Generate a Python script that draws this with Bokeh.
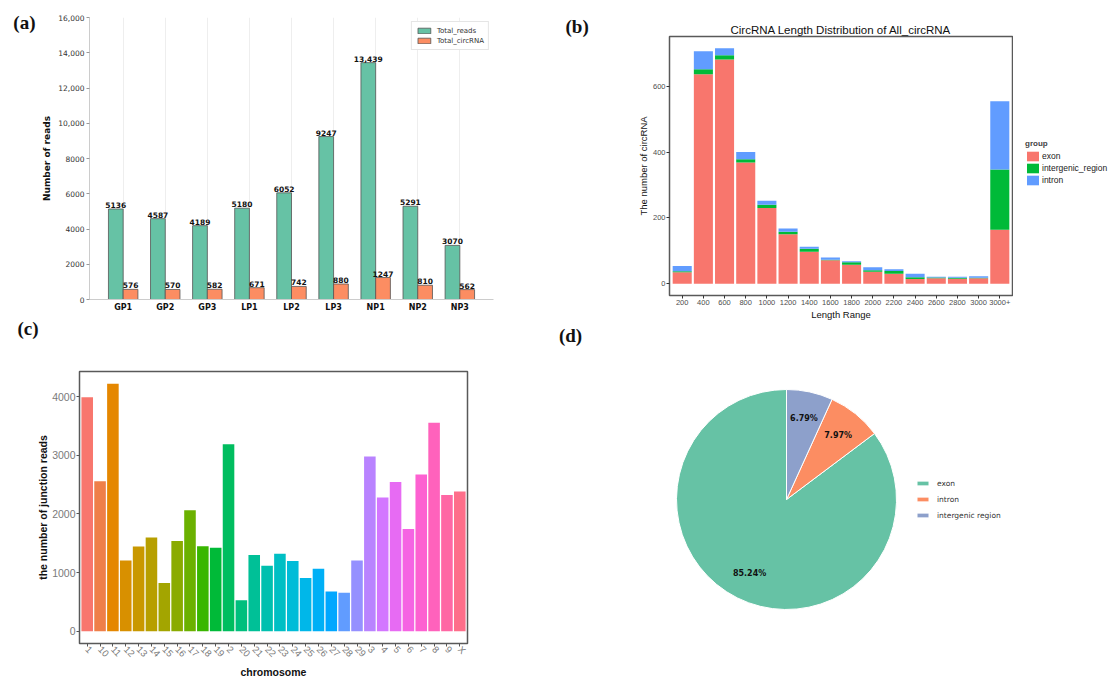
import numpy as np
from bokeh.plotting import figure
from bokeh.models import (ColumnDataSource, Range1d, FixedTicker, Legend, LegendItem, Label,
                          LinearAxis, Title)
from bokeh.layouts import row, column
from bokeh.transform import dodge
from bokeh.core.properties import value
from bokeh.embed import file_html
from bokeh.resources import INLINE

# (a) reads per sample
samples = ["GP1", "GP2", "GP3", "LP1", "LP2", "LP3", "NP1", "NP2", "NP3"]
total_reads = [5136, 4587, 4189, 5180, 6052, 9247, 13439, 5291, 3070]
total_circ = [576, 570, 582, 671, 742, 880, 1247, 810, 562]

# (b) circRNA length distribution, stacked by group
length_bins = ["200", "400", "600", "800", "1000", "1200", "1400", "1600", "1800",
               "2000", "2200", "2400", "2600", "2800", "3000", "3000+"]
len_exon = [35, 636, 681, 368, 230, 150, 97, 71, 58, 36, 30, 14, 17, 15, 17, 164]
len_intergenic = [3, 15, 13, 10, 10, 8, 9, 2, 7, 5, 9, 6, 2, 3, 1, 183]
len_intron = [16, 55, 21, 22, 12, 10, 6, 7, 3, 9, 5, 10, 2, 3, 5, 207]
groups = ["exon", "intergenic_region", "intron"]

# (c) junction reads per chromosome
chromosomes = ["1", "10", "11", "12", "13", "14", "15", "16", "17", "18", "19", "2",
               "20", "21", "22", "23", "24", "25", "26", "27", "28", "29", "3", "4",
               "5", "6", "7", "8", "9", "X"]
junction_reads = [3990, 2560, 4220, 1205, 1445, 1600, 820, 1540, 2065, 1450, 1425, 3190,
                  525, 1300, 1115, 1320, 1195, 905, 1065, 675, 655, 1205, 2980, 2280,
                  2545, 1745, 2675, 3555, 2325, 2385]

# (d) share of circRNA by origin
regions = ["exon", "intron", "intergenic region"]
region_pct = [85.24, 7.97, 6.79]

SET2 = ["#66c2a5", "#fc8d62", "#8da0cb"]
GG3 = ["#F8766D", "#00BA38", "#619CFF"]
MPL_FONT = "DejaVu Sans"
GG_FONT = "Liberation Sans"
TAG_FONT = "Liberation Serif"


def hue_pal(n, l=65.0, c=100.0, h0=15.0):
    # ggplot2 default discrete hue palette (HCL -> sRGB)
    xn, yn, zn = 0.95047, 1.0, 1.08883
    den = xn + 15 * yn + 3 * zn
    un, vn = 4 * xn / den, 9 * yn / den
    Y = yn * ((l + 16) / 116) ** 3
    out = []
    for k in range(n):
        h = np.deg2rad(h0 + 360.0 * k / n)
        up = c * np.cos(h) / (13 * l) + un
        vp = c * np.sin(h) / (13 * l) + vn
        X = 9 * Y * up / (4 * vp)
        Z = Y * (12 - 3 * up - 20 * vp) / (4 * vp)
        rgb = [3.2404542 * X - 1.5371385 * Y - 0.4985314 * Z,
               -0.9692660 * X + 1.8760108 * Y + 0.0415560 * Z,
               0.0556434 * X - 0.2040259 * Y + 1.0572252 * Z]
        hexs = ""
        for ch in rgb:
            ch = min(max(ch, 0.0), 1.0)
            ch = 12.92 * ch if ch <= 0.0031308 else 1.055 * ch ** (1 / 2.4) - 0.055
            hexs += "%02x" % int(round(ch * 255))
        out.append("#" + hexs)
    return out


def tag_title(text, offset, standoff):
    return Title(text=text, align="left", offset=offset, standoff=standoff,
                 text_font=TAG_FONT, text_font_size="19px", text_font_style="bold",
                 text_color="#111111")


def blank_fig(w, h, top, bottom):
    f = figure(width=w, height=h, output_backend="svg", toolbar_location=None, title=None,
               x_range=Range1d(0, 1), y_range=Range1d(0, 1),
               x_axis_location=None, y_axis_location=None,
               min_border_left=0, min_border_right=0,
               min_border_top=top, min_border_bottom=bottom)
    f.grid.visible = False
    f.outline_line_color = None
    return f


# ---------------- (a) ----------------
pa = figure(width=556, height=344, output_backend="svg", toolbar_location=None, title=None,
            x_range=Range1d(-0.8, len(samples) - 0.2), y_range=Range1d(0, 16000),
            min_border_left=89, min_border_right=63, min_border_top=17, min_border_bottom=45)
idx = list(range(len(samples)))
fmt = lambda v: f"{v:,}" if v >= 10000 else str(v)
src_a = ColumnDataSource(dict(x=idx, reads=total_reads, circ=total_circ,
                              reads_lbl=[fmt(v) for v in total_reads],
                              circ_lbl=[fmt(v) for v in total_circ]))
bw = 0.35
r_reads = pa.vbar(x=dodge("x", -bw / 2), top="reads", width=bw, source=src_a,
                  fill_color=SET2[0], line_color="#555555", line_width=0.8)
r_circ = pa.vbar(x=dodge("x", bw / 2), top="circ", width=bw, source=src_a,
                 fill_color=SET2[1], line_color="#555555", line_width=0.8)
for xs, ys, ts in [(-bw / 2, "reads", "reads_lbl"), (bw / 2, "circ", "circ_lbl")]:
    pa.text(x=dodge("x", xs), y=ys, text=ts, source=src_a, text_align="center",
            text_baseline="bottom", y_offset=-1, text_font=value(MPL_FONT),
            text_font_style="bold", text_font_size="7.5px", text_color="#111111")

pa.xaxis.ticker = FixedTicker(ticks=idx)
pa.xaxis.major_label_overrides = {i: s for i, s in enumerate(samples)}
yt = list(range(0, 16001, 2000))
pa.yaxis.ticker = FixedTicker(ticks=yt)
pa.yaxis.major_label_overrides = {t: fmt(t) for t in yt}
pa.xaxis.major_label_text_font_style = "bold"
pa.xaxis.major_label_text_font_size = "8px"
pa.xaxis.major_label_text_color = "#111111"
pa.xaxis.major_tick_line_color = None
pa.xaxis.major_tick_in = 0
pa.xaxis.major_tick_out = 0
pa.xaxis.major_label_standoff = 3
pa.yaxis.major_label_text_font_size = "7.5px"
pa.yaxis.major_label_text_color = "#333333"
pa.yaxis.major_tick_in = 0
pa.yaxis.major_tick_out = 3
pa.yaxis.major_tick_line_color = "#999999"
pa.yaxis.major_label_standoff = 2
pa.yaxis.axis_label = "Number of reads"
pa.yaxis.axis_label_text_font_size = "9px"
pa.yaxis.axis_label_text_font_style = "bold"
pa.yaxis.axis_label_text_color = "#111111"
pa.yaxis.axis_label_standoff = 3
pa.axis.minor_tick_line_color = None
pa.axis.axis_line_color = "#cccccc"
pa.axis.major_label_text_font = MPL_FONT
pa.axis.axis_label_text_font = MPL_FONT
pa.outline_line_color = None
pa.ygrid.visible = False
pa.xgrid.grid_line_color = "#eeeeee"
leg_a = Legend(items=[("Total_reads", [r_reads]), ("Total_circRNA", [r_circ])],
               location="top_right", border_line_color="#cccccc", background_fill_alpha=0.9,
               padding=4, margin=4, spacing=1, glyph_height=7, glyph_width=16,
               label_height=9, label_standoff=5, label_text_font_size="7px",
               label_text_font=MPL_FONT, label_text_color="#333333")
pa.add_layout(leg_a)
# panel letter (a) as the only label of an outer, bare left axis
ya = 16000 * (1 - 5 / 282)
tag_ax = LinearAxis(ticker=FixedTicker(ticks=[ya]), major_label_overrides={ya: "(a)"},
                    axis_line_color=None, major_tick_line_color=None, minor_tick_line_color=None,
                    major_tick_in=0, major_tick_out=0, major_label_standoff=4,
                    major_label_text_font=TAG_FONT, major_label_text_font_size="19px",
                    major_label_text_font_style="bold", major_label_text_color="#111111")
pa.add_layout(tag_ax, "left")
# panel letter (c) sits in the lower margin of this canvas, just above panel (c)
pa.add_layout(tag_title("(c)", -72, 2), "below")

# ---------------- (b) ----------------
tot_b = [a + b + c for a, b, c in zip(len_exon, len_intergenic, len_intron)]
pb = figure(width=401, height=322, output_backend="svg", toolbar_location=None,
            x_range=Range1d(0.4, len(length_bins) + 0.6),
            y_range=Range1d(-0.05 * max(tot_b), 1.05 * max(tot_b)),
            title="CircRNA Length Distribution of All_circRNA",
            min_border_left=57, min_border_right=1, min_border_top=36, min_border_bottom=25)
xb = list(range(1, len(length_bins) + 1))
src_b = ColumnDataSource(dict(x=xb, exon=len_exon, intergenic=len_intergenic, intron=len_intron))
pb.vbar_stack(["exon", "intergenic", "intron"], x="x", width=0.9, source=src_b,
              fill_color=GG3, line_color=None)
pb.title.align = "center"
pb.title.text_font = GG_FONT
pb.title.text_font_size = "11.5px"
pb.title.text_font_style = "normal"
pb.title.text_color = "#111111"
pb.title.standoff = 2
pb.xaxis.ticker = FixedTicker(ticks=xb)
pb.xaxis.major_label_overrides = {i: s for i, s in zip(xb, length_bins)}
pb.yaxis.ticker = FixedTicker(ticks=[0, 200, 400, 600])
pb.axis.major_label_text_font = GG_FONT
pb.axis.major_label_text_font_size = "7.5px"
pb.axis.major_label_text_color = "#4d4d4d"
pb.axis.major_label_standoff = 1
pb.axis.major_tick_in = 0
pb.axis.major_tick_out = 3
pb.axis.major_tick_line_color = "#333333"
pb.axis.minor_tick_line_color = None
pb.axis.axis_line_color = None
pb.axis.axis_label_text_font = GG_FONT
pb.axis.axis_label_text_font_size = "9.5px"
pb.axis.axis_label_text_font_style = "normal"
pb.axis.axis_label_text_color = "#111111"
pb.axis.axis_label_standoff = 1
pb.xaxis.axis_label = "Length Range"
pb.yaxis.axis_label = "The number of circRNA"
pb.grid.visible = False
pb.outline_line_color = "#595959"
pb.outline_line_width = 1.5

# strip left of (b) carrying the panel letter
pb_tag = blank_fig(56, 322, 36, 25)
pb_tag.add_layout(tag_title("(b)", 9, 0), "above")

# legend strip right of (b); key renderers are zero-height bars
pb_leg = blank_fig(102, 322, 36, 25)
key_r = [pb_leg.vbar(x=[0], top=[0], bottom=[0], width=0, fill_color=c, line_color=None)
         for c in GG3]
leg_b = Legend(items=[LegendItem(label=g, renderers=[r]) for g, r in zip(groups, key_r)],
               location=(12, 109), title="group", title_text_font=GG_FONT,
               title_text_font_size="8px", title_text_font_style="bold", title_standoff=2,
               border_line_color=None, background_fill_alpha=0, padding=0, margin=0,
               spacing=0, glyph_width=15, glyph_height=12, label_height=12,
               label_standoff=2, label_text_font=GG_FONT, label_text_font_size="8.5px",
               label_text_color="#1a1a1a")
pb_leg.add_layout(leg_b)

# ---------------- (c) ----------------
xc = list(range(1, len(chromosomes) + 1))
pc = figure(width=556, height=336, output_backend="svg", toolbar_location=None, title=None,
            x_range=Range1d(0.4, len(chromosomes) + 0.6),
            y_range=Range1d(-0.05 * max(junction_reads), 1.05 * max(junction_reads)),
            min_border_left=79, min_border_right=89, min_border_top=27, min_border_bottom=37)
src_c = ColumnDataSource(dict(x=xc, reads=junction_reads, color=hue_pal(len(chromosomes))))
pc.vbar(x="x", top="reads", width=0.9, source=src_c, fill_color="color", line_color=None)
pc.xaxis.ticker = FixedTicker(ticks=xc)
pc.xaxis.major_label_overrides = {i: s for i, s in zip(xc, chromosomes)}
pc.xaxis.major_label_orientation = -0.8
pc.yaxis.ticker = FixedTicker(ticks=[0, 1000, 2000, 3000, 4000])
pc.axis.major_label_text_font = GG_FONT
pc.yaxis.major_label_text_font_size = "10.5px"
pc.xaxis.major_label_text_font_size = "9.5px"
pc.axis.major_label_text_color = "#7a7a7a"
pc.axis.major_label_standoff = 1
pc.axis.major_tick_in = 0
pc.axis.major_tick_out = 3
pc.axis.major_tick_line_color = "#555555"
pc.axis.minor_tick_line_color = None
pc.axis.axis_line_color = None
pc.axis.axis_label_text_font = GG_FONT
pc.axis.axis_label_text_font_size = "10.5px"
pc.axis.axis_label_text_font_style = "bold"
pc.axis.axis_label_text_color = "#111111"
pc.axis.axis_label_standoff = 0
pc.xaxis.axis_label = "chromosome"
pc.yaxis.axis_label = "the number of junction reads"
pc.grid.visible = False
pc.outline_line_color = "#595959"
pc.outline_line_width = 1.5

# ---------------- (d) ----------------
pd_ = figure(width=559, height=358, output_backend="svg", toolbar_location=None, title=None,
             x_range=Range1d(-230, 329), y_range=Range1d(-181, 177),
             x_axis_location=None, y_axis_location=None,
             min_border_left=0, min_border_right=0, min_border_top=0, min_border_bottom=0)
frac = np.array(region_pct) / sum(region_pct)
cum = np.concatenate([[0], np.cumsum(frac)])
start = np.pi / 2 + 2 * np.pi * cum[:-1]
end = np.pi / 2 + 2 * np.pi * cum[1:]
mid = (start + end) / 2
R = 110
src_d = ColumnDataSource(dict(start=start, end=end, color=SET2, name=regions,
                              lx=0.75 * R * np.cos(mid), ly=0.75 * R * np.sin(mid),
                              lbl=[f"{v:.2f}%" for v in region_pct]))
wedges = pd_.wedge(x=0, y=0, radius=R, start_angle="start", end_angle="end",
                   fill_color="color", line_color="white", line_width=1, source=src_d)
pd_.text(x="lx", y="ly", text="lbl", source=src_d, text_align="center",
         text_baseline="middle", text_font=value(MPL_FONT), text_font_style="bold",
         text_font_size="8px", text_color="#111111")
pd_.grid.visible = False
pd_.outline_line_color = None
leg_d = Legend(items=[LegendItem(label=n, renderers=[wedges], index=i) for i, n in enumerate(regions)],
               location=(359, 159), border_line_color=None, background_fill_alpha=0,
               padding=0, margin=0, spacing=4, glyph_width=15, glyph_height=6,
               label_height=12, label_standoff=7, label_text_font=MPL_FONT,
               label_text_font_size="7.5px", label_text_color="#333333")
pd_.add_layout(leg_d)
pd_.add_layout(Label(x=-216, y=164, text="(d)", text_font=TAG_FONT, text_font_size="19px",
                     text_font_style="bold", text_align="center", text_baseline="middle",
                     text_color="#111111"))

left_col = column(row(pa), row(pc))
right_col = column(row(pb_tag, pb, pb_leg), row(pd_))
layout = row(left_col, right_col)
open("out.html", "w").write(file_html(layout, INLINE))
